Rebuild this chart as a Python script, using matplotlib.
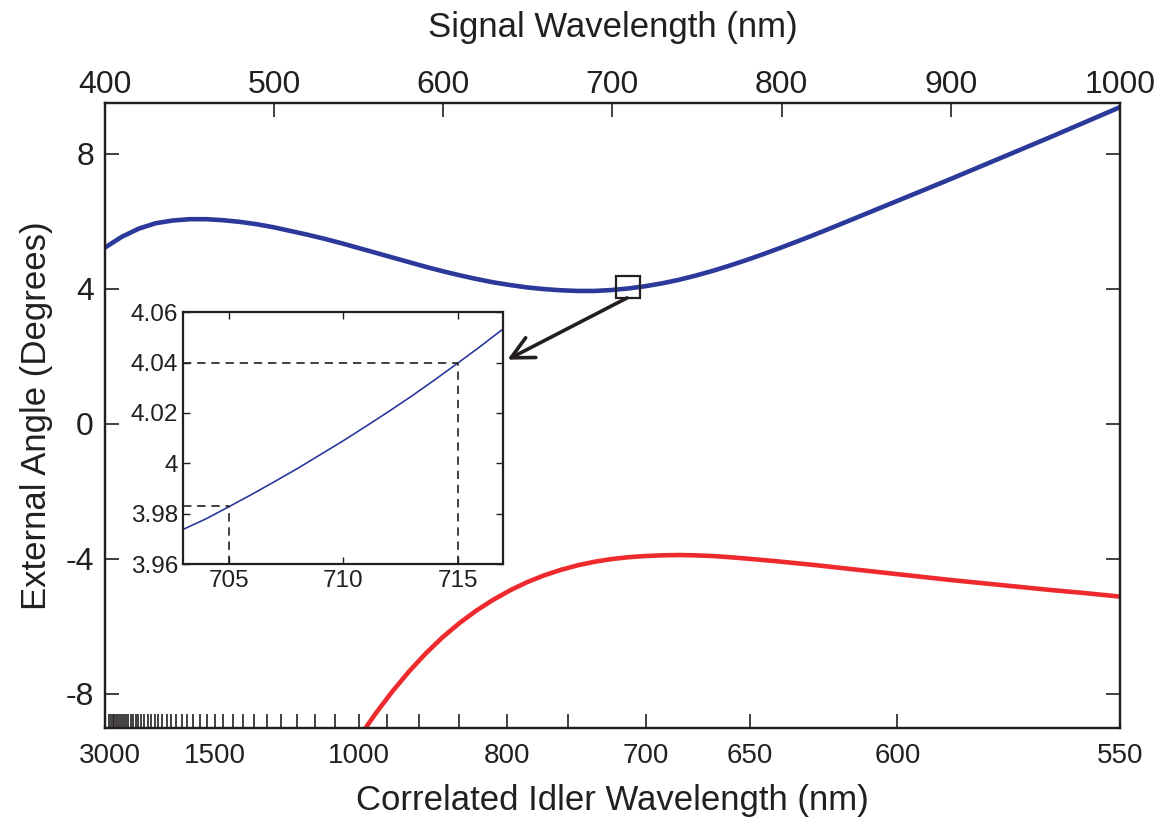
import numpy as np
import matplotlib
matplotlib.use("Agg")
import matplotlib.pyplot as plt
from matplotlib.patches import Rectangle

plt.rcParams["font.family"] = ["Liberation Sans", "DejaVu Sans"]
INK = "#231f20"
BLUE = "#2b3a9a"
RED = "#ee2a2f"

PUMP_NM = 355.0  # pump wavelength used to map signal <-> idler

# signal wavelength grid (nm) and external angles (degrees)
signal_nm = [400, 410, 420, 430, 440, 450, 460, 470, 480, 490,
             500, 510, 520, 530, 540, 550, 560, 570, 580, 590,
             600, 610, 620, 630, 640, 650, 660, 670, 680, 690,
             700, 710, 720, 730, 740, 750, 760, 770, 780, 790,
             800, 810, 820, 830, 840, 850, 860, 870, 880, 890,
             900, 910, 920, 930, 940, 950, 960, 970, 980, 990, 1000]
signal_angle = [5.22, 5.54, 5.78, 5.94, 6.02, 6.06, 6.06, 6.03, 5.98, 5.91,
                5.82, 5.71, 5.60, 5.48, 5.35, 5.21, 5.07, 4.93, 4.79, 4.65,
                4.52, 4.40, 4.29, 4.19, 4.11, 4.04, 3.99, 3.955, 3.935, 3.935,
                3.962, 4.009, 4.075, 4.16, 4.265, 4.39, 4.53, 4.685, 4.85, 5.025,
                5.21, 5.40, 5.595, 5.795, 6.00, 6.205, 6.41, 6.615, 6.82, 7.025,
                7.23, 7.44, 7.65, 7.86, 8.07, 8.28, 8.49, 8.705, 8.92, 9.135, 9.35]

idler_signal_nm = [550, 560, 570, 580, 590, 600, 610, 620, 630, 640,
                   650, 660, 670, 680, 690, 700, 710, 720, 730, 740,
                   750, 760, 770, 780, 790, 800, 810, 820, 830, 840,
                   850, 860, 870, 880, 890, 900, 910, 920, 930, 940,
                   950, 960, 970, 980, 990, 1000]
idler_angle = [-9.32, -8.60, -7.94, -7.34, -6.80, -6.32, -5.90, -5.53, -5.21, -4.93,
               -4.69, -4.49, -4.325, -4.19, -4.085, -4.005, -3.95, -3.915, -3.895, -3.885,
               -3.895, -3.915, -3.95, -3.99, -4.035, -4.08, -4.13, -4.18, -4.235, -4.29,
               -4.345, -4.40, -4.455, -4.51, -4.565, -4.62, -4.67, -4.72, -4.77, -4.82,
               -4.87, -4.92, -4.965, -5.01, -5.06, -5.11]

# zoomed inset
inset_nm = [703, 704, 705, 706, 707, 708, 709, 710, 711, 712, 713, 714, 715, 716, 717]
inset_angle = [3.9738, 3.978, 3.9828, 3.9877, 3.9928, 3.998, 4.0035, 4.009,
               4.0148, 4.0207, 4.0268, 4.0332, 4.0398, 4.0465, 4.0535]
marked_nm = [705, 715]
marked_angle = [3.983, 4.040]

signal_ticks = [400, 500, 600, 700, 800, 900, 1000]
angle_ticks = [-8, -4, 0, 4, 8]
idler_labels = [3000, 1500, 1000, 800, 700, 650, 600, 550]
idler_minor = list(range(550, 3001, 50))


def idler_to_signal(idler):
    idler = np.asarray(idler, dtype=float)
    return 1.0 / (1.0 / PUMP_NM - 1.0 / idler)


fig = plt.figure(figsize=(11.68, 8.21), dpi=100)
ax = fig.add_axes([0.0899, 0.1136, 0.869, 0.7609])

ax.plot(signal_nm, signal_angle, color=BLUE, lw=3.3, solid_joinstyle="round")
ax.plot(idler_signal_nm, idler_angle, color=RED, lw=3.3, solid_joinstyle="round")
ax.set_xlim(400, 1000)
ax.set_ylim(-9, 9.5)

# bottom axis: correlated idler wavelength
ax.set_xticks(idler_to_signal(idler_labels))
ax.set_xticklabels([str(v) for v in idler_labels])
ax.set_xticks(idler_to_signal([v for v in idler_minor if v not in idler_labels]), minor=True)
ax.tick_params(axis="x", which="both", direction="in", length=10, width=1.2,
               colors=INK, labelsize=20, pad=11)
ax.set_xlabel("Correlated Idler Wavelength (nm)", fontsize=25, color=INK, labelpad=11)

ax.set_yticks(angle_ticks)
ax.set_yticklabels([str(v) for v in angle_ticks])
ax.tick_params(axis="y", which="both", direction="in", length=10, width=1.2,
               colors=INK, labelsize=23, pad=8, right=True)
ax.set_ylabel("External Angle (Degrees)", fontsize=25, color=INK, labelpad=9)

# top axis: signal wavelength
ax_top = ax.twiny()
ax_top.set_xlim(400, 1000)
ax_top.set_xticks(signal_ticks)
ax_top.tick_params(axis="x", direction="in", length=10, width=1.2, colors=INK,
                   labelsize=23, pad=2)
ax_top.set_xlabel("Signal Wavelength (nm)", fontsize=25, color=INK, labelpad=24)

for a in (ax, ax_top):
    for sp in a.spines.values():
        sp.set_linewidth(1.6)
        sp.set_color(INK)

# marker box and arrow to inset
ax.add_patch(Rectangle((inset_nm[0], 3.73), inset_nm[-1] - inset_nm[0], 0.65,
                       fill=False, ec=INK, lw=1.6, zorder=5))
ax.annotate("", xy=(638.4, 1.90), xytext=(709.3, 3.73),
            arrowprops=dict(arrowstyle="->,head_length=0.8,head_width=0.4",
                            mutation_scale=20, lw=2.6, color=INK,
                            shrinkA=0, shrinkB=0), zorder=6)

# inset
axi = fig.add_axes([0.157, 0.313, 0.274, 0.3066])
axi.plot(inset_nm, inset_angle, color=BLUE, lw=1.2)
dash = dict(color=INK, lw=1.2, ls=(0, (5, 3.5)))
for x, y in zip(marked_nm, marked_angle):
    axi.plot([inset_nm[0], x], [y, y], **dash)
    axi.plot([x, x], [3.96, y], **dash)
axi.set_xlim(703, 717)
axi.set_ylim(3.96, 4.06)
axi.set_xticks([705, 710, 715])
axi.set_yticks([3.96, 3.98, 4.0, 4.02, 4.04, 4.06])
axi.set_yticklabels(["3.96", "3.98", "4", "4.02", "4.04", "4.06"])
axi.tick_params(direction="in", length=5, width=1.0, colors=INK, labelsize=17.5,
                top=True, right=True, pad=4)
for sp in axi.spines.values():
    sp.set_linewidth(1.6)
    sp.set_color(INK)

fig.savefig("out.png", dpi=100)
